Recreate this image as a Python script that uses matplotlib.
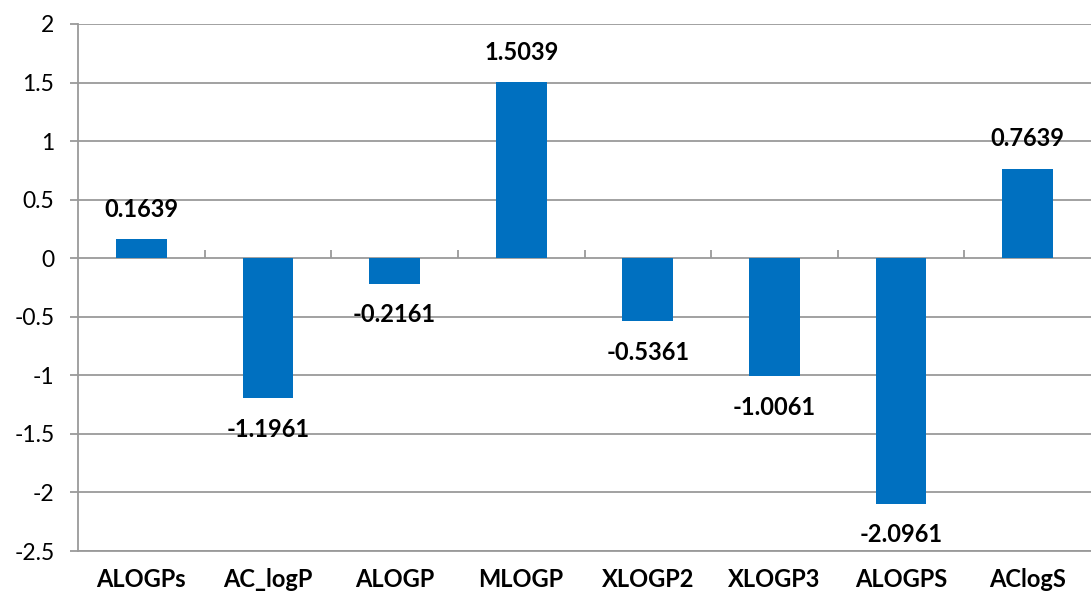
import matplotlib
matplotlib.use("Agg")
import matplotlib.pyplot as plt
import numpy as np

# Data
categories = ["ALOGPs", "AC_logP", "ALOGP", "MLOGP", "XLOGP2", "XLOGP3", "ALOGPS", "AClogS"]
values = [0.1639, -1.1961, -0.2161, 1.5039, -0.5361, -1.0061, -2.0961, 0.7639]
y_ticks = [-2.5, -2, -1.5, -1, -0.5, 0, 0.5, 1, 1.5, 2]

plt.rcParams["font.family"] = ["Lato", "DejaVu Sans"]

bar_color = "#0070C0"
grid_color = "#9a9a9a"

fig = plt.figure(figsize=(10.91, 6.01), dpi=100)
ax = fig.add_axes([78 / 1091, 1 - 551 / 601, 1 - 78 / 1091, (551 - 24) / 601])

x = np.arange(len(categories))
ax.bar(x, values, width=0.4, color=bar_color, zorder=3)

ax.set_xlim(-0.5, len(categories) - 0.5)
ax.set_ylim(min(y_ticks), max(y_ticks))
ax.set_yticks(y_ticks)
ax.set_yticklabels([f"{t:g}" for t in y_ticks], fontsize=16.5)
ax.yaxis.grid(True, color=grid_color, linewidth=1.3, zorder=0)
ax.set_axisbelow(True)

ax.set_xticks(x)
ax.set_xticklabels(categories, fontsize=17, fontweight="bold")
ax.tick_params(axis="x", length=0, pad=12)
ax.tick_params(axis="y", length=6, width=1.3, color=grid_color, pad=11)

for side in ["top", "right"]:
    ax.spines[side].set_visible(False)
for side in ["left", "bottom"]:
    ax.spines[side].set_color(grid_color)
    ax.spines[side].set_linewidth(1.3)

# category divider ticks along the zero line
zero_pos = (0 - min(y_ticks)) / (max(y_ticks) - min(y_ticks))
sec = ax.secondary_xaxis(zero_pos)
sec.set_xticks(np.arange(0.5, len(categories) - 0.5))
sec.set_xticklabels([])
sec.tick_params(direction="out", length=6, width=1.3, color=grid_color)
sec.spines["bottom"].set_visible(False)
sec.spines["top"].set_visible(False)

for xi, v in zip(x, values):
    off = 21.5 if v >= 0 else -22.5
    ax.annotate(f"{v:.4f}", (xi, v), xytext=(0, off), textcoords="offset points",
                ha="center", va="center", fontsize=17, fontweight="bold")

fig.savefig("out.png", dpi=100)
